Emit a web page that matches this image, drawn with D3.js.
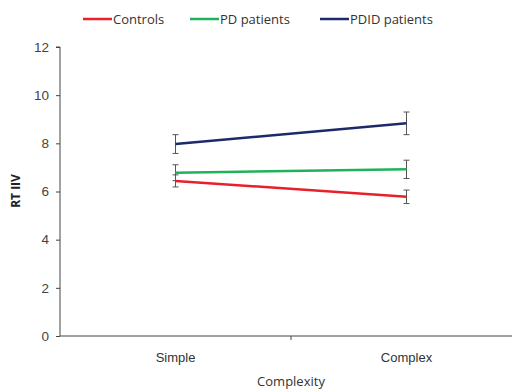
<!DOCTYPE html>
<html>
<head>
<meta charset="utf-8">
<script src="https://cdn.jsdelivr.net/npm/d3@7"></script>
<style>
  html, body { margin: 0; padding: 0; background: #fff; }
  svg { display: block; font-family: "Open Sans", "Liberation Sans", sans-serif; }
</style>
</head>
<body>
<div id="chart"></div>
<script>
const categories = ["Simple", "Complex"];
const seriesNames = ["Controls", "PD patients", "PDID patients"];
const seriesColors = ["#e8202a", "#1fb25a", "#1c2a6b"];
const meanValues = [
  [6.44, 5.78],
  [6.78, 6.92],
  [7.97, 8.83]
];
const errValues = [
  [0.25, 0.28],
  [0.33, 0.38],
  [0.39, 0.47]
];
const yTicks = [0, 2, 4, 6, 8, 10, 12];

const width = 512, height = 391;
const svg = d3.select("#chart").append("svg")
  .attr("width", width).attr("height", height);

const x = d3.scaleBand().domain(categories).range([60, 522]);
const y = d3.scaleLinear().domain([0, 12]).range([336, 47]);

// y axis
const yAxis = svg.append("g")
  .attr("transform", "translate(60,0)")
  .call(d3.axisLeft(y).tickValues(yTicks).tickSize(4).tickPadding(7));
yAxis.select(".domain").attr("stroke", "#444").attr("d", "M-4,47H0V336");
yAxis.selectAll(".tick line").attr("stroke", "#444");
yAxis.selectAll(".tick text").attr("fill", "#444").style("font-size", "13.5px");

// x axis
const xAxis = svg.append("g")
  .attr("transform", "translate(0,336)")
  .call(d3.axisBottom(x).tickSize(0).tickPadding(17));
xAxis.select(".domain").attr("stroke", "#444").attr("d", "M60,0H522");
xAxis.selectAll(".tick text").attr("fill", "#333").style("font-size", "13px");
xAxis.append("line")
  .attr("x1", x("Complex")).attr("x2", x("Complex"))
  .attr("y1", 0).attr("y2", 4).attr("stroke", "#444");

// axis titles
svg.append("text")
  .attr("transform", "translate(20,191) rotate(-90)")
  .attr("text-anchor", "middle")
  .attr("fill", "#222").style("font-size", "12px").style("font-weight", "bold")
  .text("RT IIV");
svg.append("text")
  .attr("x", 291).attr("y", 386)
  .attr("text-anchor", "middle")
  .attr("fill", "#333").style("font-size", "13px")
  .text("Complexity");

const cx = (c) => x(c) + x.bandwidth() / 2;
const line = d3.line().x((d, i) => cx(categories[i])).y((d) => y(d));

// error bars
seriesNames.forEach((s, si) => {
  categories.forEach((c, ci) => {
    const m = meanValues[si][ci], e = errValues[si][ci];
    const g = svg.append("g").attr("stroke", "#555").attr("stroke-width", 1);
    g.append("line").attr("x1", cx(c)).attr("x2", cx(c)).attr("y1", y(m - e)).attr("y2", y(m + e));
    g.append("line").attr("x1", cx(c) - 3).attr("x2", cx(c) + 3).attr("y1", y(m - e)).attr("y2", y(m - e));
    g.append("line").attr("x1", cx(c) - 3).attr("x2", cx(c) + 3).attr("y1", y(m + e)).attr("y2", y(m + e));
  });
});

// series lines
seriesNames.forEach((s, si) => {
  svg.append("path")
    .attr("d", line(meanValues[si]))
    .attr("fill", "none")
    .attr("stroke", seriesColors[si])
    .attr("stroke-width", 2.5);
});

// legend
const legendX = [83, 190, 320];
seriesNames.forEach((s, si) => {
  const g = svg.append("g").attr("transform", `translate(${legendX[si]},19)`);
  g.append("line").attr("x1", 0).attr("x2", 29).attr("y1", 0).attr("y2", 0)
    .attr("stroke", seriesColors[si]).attr("stroke-width", 2.5);
  g.append("text").attr("x", 30).attr("y", 4.5)
    .attr("fill", "#333").style("font-size", "13px").text(s);
});
</script>
</body>
</html>
